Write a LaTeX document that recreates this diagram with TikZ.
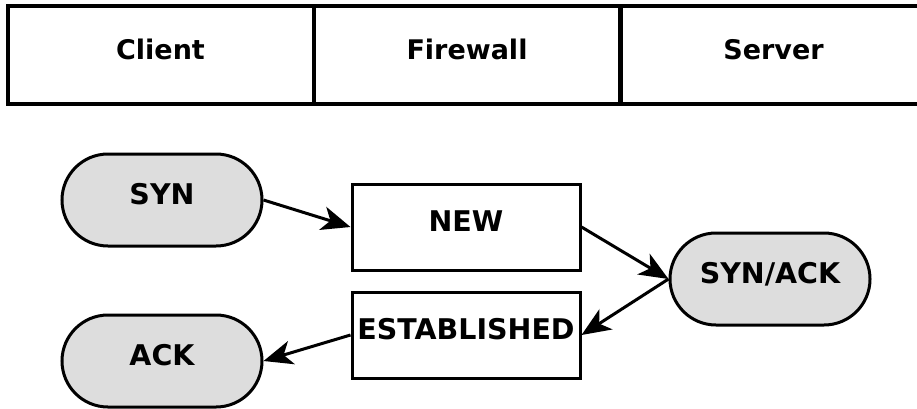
\documentclass[tikz,border=0pt]{standalone}
\usepackage{fontspec}
\setmainfont{DejaVu Sans}
\usetikzlibrary{shapes.misc,arrows.meta}
\definecolor{pillgray}{HTML}{DDDDDD}
\begin{document}
\begin{tikzpicture}[x=1pt,y=-1pt,
  txt/.style={font=\fontsize{28.5}{31}\selectfont\bfseries, text height=21pt, text depth=12pt, inner sep=0pt},
  cell/.style={txt, font=\fontsize{27}{30}\selectfont\bfseries, text height=20pt, draw, line width=4pt, rectangle, minimum width=306pt, minimum height=98pt},
  pill/.style={txt, draw, line width=3pt, rounded rectangle, fill=pillgray, minimum width=200pt, minimum height=92pt},
  state/.style={txt, draw, line width=3pt, rectangle, fill=white, minimum width=228pt, minimum height=86pt},
  flow/.style={line width=3pt, -{Stealth[length=29pt,width=24pt,inset=8pt]}}]
\useasboundingbox (0,0) rectangle (917,408);
\node[cell] (client) at (160.5,55) {Client};
\node[cell] (firewall) at (467,55) {Firewall};
\node[cell] (server) at (773.5,55) {Server};
\node[pill] (syn) at (162,200) {SYN};
\node[pill] (ack) at (162,361) {ACK};
\node[state] (new) at (466,227) {NEW};
\node[state] (est) at (466,335) {ESTABLISHED};
\node[pill] (synack) at (770,279) {SYN/ACK};
\draw[flow] (syn.east) -- (new.west);
\draw[flow] (new.east) -- (synack.west);
\draw[flow] (synack.west) -- (est.east);
\draw[flow] (est.west) -- (ack.east);
\end{tikzpicture}
\end{document}
